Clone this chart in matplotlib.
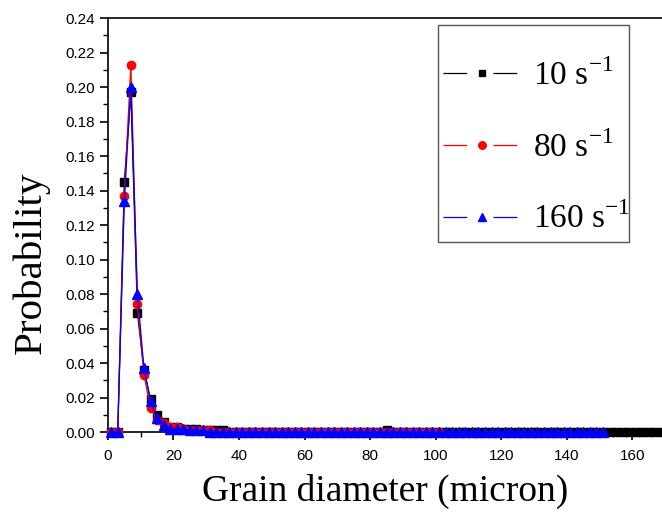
import numpy as np
import matplotlib
matplotlib.use("Agg")
import matplotlib.pyplot as plt
from matplotlib.patches import Rectangle
from matplotlib.ticker import MultipleLocator, FormatStrFormatter

# bin centres (micron)
d_10 = np.arange(1, 172, 2)
d_80 = np.arange(1, 102, 2)
d_160 = np.arange(1, 152, 2)

# probability per bin
p_10 = [0.0, 0.0, 0.145, 0.197, 0.069, 0.036, 0.019, 0.010, 0.006, 0.003,
        0.003, 0.002, 0.002, 0.002, 0.001, 0.001, 0.001, 0.001, 0.0, 0.0,
        0.0, 0.0, 0.0, 0.0, 0.0, 0.0, 0.0, 0.0, 0.0, 0.0,
        0.0, 0.0, 0.0, 0.0, 0.0, 0.0, 0.0, 0.0, 0.0, 0.0,
        0.0, 0.0, 0.001, 0.0, 0.0, 0.0, 0.0, 0.0, 0.0, 0.0,
        0.0, 0.0, 0.0, 0.0, 0.0, 0.0, 0.0, 0.0, 0.0, 0.0,
        0.0, 0.0, 0.0, 0.0, 0.0, 0.0, 0.0, 0.0, 0.0, 0.0,
        0.0, 0.0, 0.0, 0.0, 0.0, 0.0, 0.0, 0.0, 0.0, 0.0,
        0.0, 0.0, 0.0, 0.0, 0.0, 0.0]
p_80 = [0.0, 0.0, 0.137, 0.213, 0.074, 0.033, 0.014, 0.007, 0.005, 0.003,
        0.003, 0.002, 0.001, 0.001, 0.001, 0.001, 0.0, 0.0, 0.0, 0.0,
        0.0, 0.0, 0.0, 0.0, 0.0, 0.0, 0.0, 0.0, 0.0, 0.0,
        0.0, 0.0, 0.0, 0.0, 0.0, 0.0, 0.0, 0.0, 0.0, 0.0,
        0.0, 0.0, 0.0, 0.0, 0.0, 0.0, 0.0, 0.0, 0.0, 0.0,
        0.0]
p_160 = [0.0, 0.0, 0.134, 0.200, 0.080, 0.037, 0.018, 0.008, 0.004, 0.002,
         0.002, 0.002, 0.001, 0.001, 0.001, 0.0, 0.0, 0.0, 0.0, 0.0,
         0.0, 0.0, 0.0, 0.0, 0.0, 0.0, 0.0, 0.0, 0.0, 0.0,
         0.0, 0.0, 0.0, 0.0, 0.0, 0.0, 0.0, 0.0, 0.0, 0.0,
         0.0, 0.0, 0.0, 0.0, 0.0, 0.0, 0.0, 0.0, 0.0, 0.0,
         0.0, 0.0, 0.0, 0.0, 0.0, 0.0, 0.0, 0.0, 0.0, 0.0,
         0.0, 0.0, 0.0, 0.0, 0.0, 0.0, 0.0, 0.0, 0.0, 0.0,
         0.0, 0.0, 0.0, 0.0, 0.0, 0.0]

labels = [r"10 s$^{\mathregular{-1}}$", r"80 s$^{\mathregular{-1}}$", r"160 s$^{\mathregular{-1}}$"]

plt.rcParams['font.family'] = ['Liberation Sans', 'DejaVu Sans']
plt.rcParams['mathtext.fontset'] = 'custom'
plt.rcParams['mathtext.rm'] = 'Liberation Serif'

fig = plt.figure(figsize=(6.62, 5.15), dpi=100)
ax = fig.add_axes([0.163, 0.161, 0.837, 0.804])

ax.plot(d_10, p_10, color='black', lw=0.9, marker='s', ms=5.5, label=labels[0], clip_on=False, zorder=3)
ax.plot(d_80, p_80, color='red', lw=0.9, marker='o', ms=6, label=labels[1], clip_on=False, zorder=4)
ax.plot(d_160, p_160, color='blue', lw=0.9, marker='^', ms=7, label=labels[2], clip_on=False, zorder=5)

ax.set_xlim(0, 169)
ax.set_ylim(0, 0.24)
ax.xaxis.set_major_locator(MultipleLocator(20))
ax.xaxis.set_minor_locator(MultipleLocator(10))
ax.yaxis.set_major_locator(MultipleLocator(0.02))
ax.yaxis.set_minor_locator(MultipleLocator(0.01))
ax.yaxis.set_major_formatter(FormatStrFormatter('%.2f'))
ax.tick_params(which='major', direction='out', length=6, width=1.2, labelsize=11)
ax.tick_params(which='minor', direction='out', length=3.5, width=1)
ax.tick_params(axis='x', pad=6)
for s in ax.spines.values():
    s.set_linewidth(1.2)
ax.spines['right'].set_visible(False)

ax.set_xlabel("Grain diameter (micron)", family='Liberation Serif', fontsize=27, labelpad=8)
ax.set_ylabel("Probability", family='Liberation Serif', fontsize=29.5)
ax.yaxis.set_label_coords(-0.105, 0.409)

# legend box drawn separately (Origin-style frame)
ax.add_patch(Rectangle((0.596, 0.459), 0.344, 0.524, transform=ax.transAxes,
                       fill=False, edgecolor='#555555', lw=1, clip_on=False, zorder=6))
leg = ax.legend(loc='center left', bbox_to_anchor=(0.6047, 0.688),
                prop={'family': 'Liberation Serif', 'size': 24},
                frameon=False, markerscale=0.9,
                handlelength=2.37, handletextpad=0.33, labelspacing=1.17,
                borderpad=0, borderaxespad=0)
for h in leg.get_lines():
    h.set_linewidth(0.9)
    # segment - gap - segment, marker sits in the gap
    h.set_dashes([19, 21])

fig.savefig("out.png", dpi=100)
